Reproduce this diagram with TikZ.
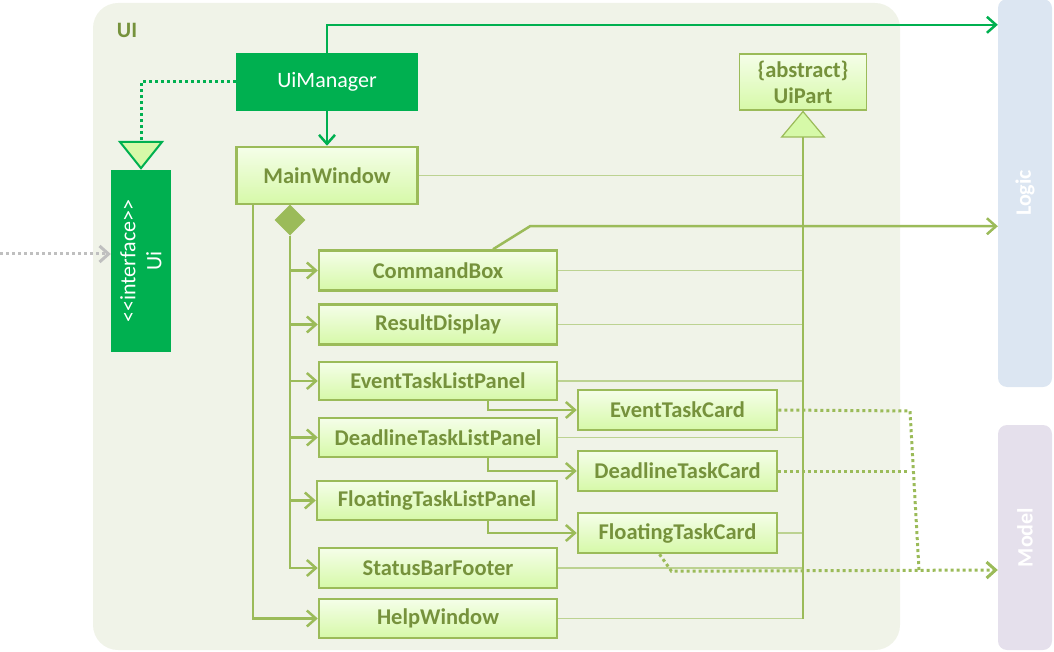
\documentclass[tikz,border=0pt]{standalone}
\usepackage{fontspec}
\setmainfont{Carlito}
\usepackage{tikz}
\usetikzlibrary{shapes,arrows.meta}
\definecolor{uigreen}{HTML}{00B050}
\definecolor{olive}{HTML}{76923C}
\definecolor{leaf}{HTML}{9BBB59}
\definecolor{pale}{HTML}{BCD291}
\definecolor{pkgbg}{HTML}{F0F3E8}
\definecolor{gradtop}{HTML}{F5FEE9}
\definecolor{gradbot}{HTML}{D6F9A8}
\definecolor{logicbg}{HTML}{DCE6F2}
\definecolor{modelbg}{HTML}{E5E0EC}
\definecolor{extgray}{HTML}{BFBFBF}
\tikzstyle{class} = [rectangle, draw=leaf, line width=2.5pt, top color=gradtop,
bottom color=gradbot, text=olive, font=\fontsize{22.5}{26}\selectfont\bfseries,
minimum width=238pt, minimum height=40pt, inner sep=0pt]
\tikzstyle{card} = [class, minimum width=199pt]
\tikzstyle{abstract} = [class, line width=1.2pt, minimum width=127pt,
minimum height=56pt, align=center]
\tikzstyle{mgrbox} = [rectangle, fill=uigreen, text=white, inner sep=0pt]
\tikzstyle{package} = [rectangle, fill=pkgbg, rounded corners=25pt,
minimum width=807pt, minimum height=647pt]
\tikzstyle{layerbox} = [rectangle, rounded corners=9pt, minimum width=54pt,
inner sep=0pt]
\tikzstyle{line} = [draw=leaf, line width=2.5pt, -{Straight Barb[length=9pt,width=16pt]}]
\tikzstyle{gline} = [line, draw=uigreen]
\tikzstyle{genline} = [draw=pale, line width=1.5pt]
\tikzstyle{genarrow} = [draw=leaf, line width=1.8pt,
-{Triangle[length=27pt,width=45pt,fill=gradbot,line width=1.2pt]}]
\tikzstyle{realize} = [draw=uigreen, line width=3pt, dash pattern=on 3pt off 3pt,
-{Triangle[length=29pt,width=46pt,fill=gradbot,line width=2pt]}]
\tikzstyle{dotline} = [draw=leaf, line width=3pt, dash pattern=on 3pt off 3pt]
\tikzstyle{extline} = [line, draw=extgray, line width=3pt, dash pattern=on 3pt off 3pt]

\begin{document}
\begin{tikzpicture}[x=1pt, y=-1pt, font=\fontsize{22}{26}\selectfont]
\useasboundingbox (0,0) rectangle (1054,652);

% Place nodes
\node [package] (uipkg) at (496.5,326.5) {};
\node [text=olive, font=\fontsize{22}{26}\selectfont\bfseries] (uititle) at (127,30) {UI};
\node [layerbox, fill=logicbg, minimum height=388pt,
  label={[rotate=90, text=white, font=\fontsize{22}{26}\selectfont\bfseries]center:Logic}]
  (logic) at (1025,193) {};
\node [layerbox, fill=modelbg, minimum height=225pt,
  label={[rotate=90, text=white, font=\fontsize{22}{26}\selectfont\bfseries]center:Model}]
  (model) at (1025,537.5) {};
\node [mgrbox, minimum width=182pt, minimum height=58pt] (mgr) at (327,82) {UiManager};
\node [mgrbox, minimum width=60pt, minimum height=182pt,
  label={[rotate=90, text=white, align=center]center:<\kern0pt<interface>\kern0pt>\\Ui}]
  (ui) at (141,261) {};
\node [class, minimum width=181pt, minimum height=57pt] (main) at (327,175.5) {MainWindow};
\node [abstract] (uipart) at (803,82) {\{abstract\}\\UiPart};
\node [diamond, fill=leaf, minimum size=31pt, inner sep=0pt] (comp) at (290,220) {};
\node [class] (cmd) at (438,270.5) {CommandBox};
\node [class] (res) at (438,324.5) {ResultDisplay};
\node [class, minimum height=38pt] (etlp) at (438,381) {EventTaskListPanel};
\node [class, minimum height=39pt] (dtlp) at (438,437.5) {DeadlineTaskListPanel};
\node [class, minimum width=240pt, minimum height=39pt] (ftlp) at (437,500.5) {FloatingTaskListPanel};
\node [class] (sbf) at (438,568) {StatusBarFooter};
\node [class, minimum height=39pt] (help) at (438,618.5) {HelpWindow};
\node [card] (etc) at (677.5,410) {EventTaskCard};
\node [card] (dtc) at (677.5,471) {DeadlineTaskCard};
\node [card] (ftc) at (677.5,533) {FloatingTaskCard};
\coordinate (ext) at (0,254);
\coordinate (mwleg) at ([xshift=-74pt]main.south);
\coordinate (dj1) at (910,411);
\coordinate (dj2) at (919,570);

% Draw edges
\foreach \n in {main,cmd,res,etlp,dtlp,ftc,sbf,help}
  \path [genline] (\n.east) -- (\n.east -| uipart.south);
\path [genarrow] (help.east -| uipart.south) -- (uipart.south);
\path [realize] (mgr.west) -| (ui.north);
\path [extline] (ext) -- (ext -| ui.west);
\path [gline] (mgr) -- (main);
\path [gline] (mgr.north) |- ([yshift=-26pt]logic.north west);
\foreach \n in {cmd,res,etlp,dtlp,ftlp,sbf}
  \path [line] (comp.south) |- (\n);
\path [line] (mwleg) |- (help);
\path [line] ([xshift=50pt]etlp.south) |- (etc);
\path [line] ([xshift=50pt]dtlp.south) |- (dtc);
\path [line] ([xshift=51pt]ftlp.south) |- (ftc);
\path [line] ([xshift=55pt]cmd.north) -- ++(37,-23) coordinate (cbup) -- (cbup -| logic.west);
\path [dotline] (etc.east) -- (dj1) -- (dj2);
\path [dotline] (dtc.east) -- (dtc.east -| dj1);
\path [dotline, -{Straight Barb[length=9pt,width=16pt]}] ([xshift=-18pt]ftc.south)
  -- ++(12,17) -- (dj2 -| model.west);
\end{tikzpicture}
\end{document}
